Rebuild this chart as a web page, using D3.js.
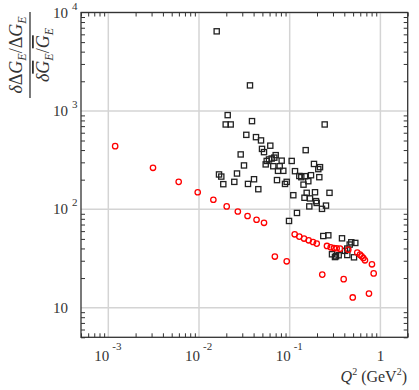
<!DOCTYPE html>
<html>
<head>
<meta charset="utf-8">
<script src="https://cdn.jsdelivr.net/npm/d3@7"></script>
<style>
body { margin: 0; background: #fff; }
text { font-family: "Liberation Serif", "DejaVu Serif", serif; fill: #333; }
</style>
</head>
<body>
<script>
// canvas and plot frame
var width = 419, height = 390;
var plot_left = 81, plot_right = 407.7, plot_top = 12.5, plot_bottom = 337.3;

// x axis decades and their labels (10^exp, '' exponent means plain base)
var xMajor = [1e-3, 1e-2, 1e-1, 1];
var xBase = ['10', '10', '10', '1'];
var xExp = ['-3', '-2', '-1', ''];

// y axis decades and labels
var yMajor = [10, 100, 1000, 10000];
var yBase = ['10', '10', '10', '10'];
var yExp = ['', '2', '3', '4'];

// red circles: Q^2 (GeV^2) and ratio
var redQ2 = [0.00119, 0.00311, 0.00597, 0.00968, 0.0144, 0.0202, 0.0268, 0.0343, 0.0431, 0.0521,
	0.0686, 0.0927, 0.1135, 0.1276, 0.1439, 0.1618, 0.1807, 0.1986, 0.2576, 0.283,
	0.3076, 0.3296, 0.359, 0.4426, 0.556, 0.596, 0.622, 0.649, 0.676, 0.807,
	0.843, 0.2286, 0.3936, 0.4955, 0.748];
var redRatio = [438, 264, 190, 149, 125, 107, 95, 85.5, 78.3, 72.9,
	33.1, 29.6, 55.7, 52.8, 50.4, 48.4, 46.5, 44.8, 42.4, 41.1,
	40.4, 40.2, 39.8, 38.9, 36.3, 34.6, 33.3, 32.0, 30.3, 27.6,
	22.3, 21.7, 19.5, 12.7, 13.9];

// black squares
var blackQ2 = [0.01567, 0.03648, 0.02072, 0.0197, 0.02236, 0.0384, 0.2431, 0.03323, 0.0425, 0.04827,
	0.0611, 0.04951, 0.05208, 0.1501, 0.02882, 0.07009, 0.06766, 0.05911, 0.0633, 0.05578,
	0.0816, 0.1052, 0.03133, 0.05438, 0.06593, 0.07757, 0.0743, 0.085, 0.1144, 0.1853,
	0.2158, 0.2067, 0.01662, 0.01761, 0.02624, 0.01853, 0.0245, 0.04042, 0.03468, 0.04507,
	0.07244, 0.09266, 0.08875, 0.1276, 0.1342, 0.1475, 0.1717, 0.212, 0.142, 0.1604,
	0.1096, 0.154, 0.1901, 0.2747, 0.1456, 0.1674, 0.195, 0.1985, 0.1645, 0.227,
	0.2513, 0.1203, 0.0983, 0.2346, 0.2665, 0.3773, 0.4776, 0.5287, 0.4586, 0.4315,
	0.4072, 0.2927, 0.3239, 0.3468, 0.4315, 0.5116, 0.3158];
var blackRatio = [6437, 1816, 906, 728, 728, 787, 728, 571, 541, 501,
	443, 411, 381, 399, 361, 355, 335, 321, 328, 310,
	312, 310, 279, 286, 274, 274, 246, 246, 244, 289,
	268, 256, 226, 215, 231, 180, 190, 202, 181, 160,
	198, 190, 181, 218, 212, 217, 222, 212, 178, 193,
	139, 147, 149, 147, 131, 129, 121, 116, 107, 101,
	109, 91.8, 76.1, 53.5, 54.4, 50.7, 46.2, 45.5, 43.8, 39.9,
	37.8, 34.9, 33.3, 34.1, 34.3, 32.5, 32.7];

var svg = d3.select('body').append('svg')
	.attr('width', width)
	.attr('height', height);

var x = d3.scaleLog().domain([5e-4, 2]).range([plot_left, plot_right]);
var y = d3.scaleLog().domain([5, 1e4]).range([plot_bottom, plot_top]);

function isDecade(v) {
	var l = Math.log10(v);
	return Math.abs(l - Math.round(l)) < 1e-6;
}
var xMinor = x.ticks().filter(function(d){ return !isDecade(d); });
var yMinor = y.ticks().filter(function(d){ return !isDecade(d); });

// grid lines
svg.append('g').selectAll('line.gx')
	.data(xMajor).enter().append('line')
	.attr('x1', d => x(d)).attr('x2', d => x(d))
	.attr('y1', plot_top).attr('y2', plot_bottom)
	.attr('stroke', '#d4d4d4').attr('stroke-width', 1.5);
svg.append('g').selectAll('line.gy')
	.data(yMajor).enter().append('line')
	.attr('y1', d => y(d)).attr('y2', d => y(d))
	.attr('x1', plot_left).attr('x2', plot_right)
	.attr('stroke', '#d4d4d4').attr('stroke-width', 1.5);

// minor ticks on all four sides, pointing inward
function styleAxis(g) {
	g.select('.domain').remove();
	g.selectAll('.tick line').attr('stroke', '#333').attr('stroke-width', 1);
}
svg.append('g').attr('transform', 'translate(0,' + plot_bottom + ')')
	.call(d3.axisBottom(x).tickValues(xMinor).tickSize(-4).tickFormat('')).call(styleAxis);
svg.append('g').attr('transform', 'translate(0,' + plot_top + ')')
	.call(d3.axisTop(x).tickValues(xMinor).tickSize(-4).tickFormat('')).call(styleAxis);
svg.append('g').attr('transform', 'translate(' + plot_left + ',0)')
	.call(d3.axisLeft(y).tickValues(yMinor).tickSize(-4).tickFormat('')).call(styleAxis);
svg.append('g').attr('transform', 'translate(' + plot_right + ',0)')
	.call(d3.axisRight(y).tickValues(yMinor).tickSize(-4).tickFormat('')).call(styleAxis);

// frame
svg.append('rect')
	.attr('x', plot_left).attr('y', plot_top)
	.attr('width', plot_right - plot_left).attr('height', plot_bottom - plot_top)
	.attr('fill', 'none').attr('stroke', '#333').attr('stroke-width', 1.3);

// x tick labels
xMajor.forEach(function(v, i) {
	if (xExp[i] == '') {
		svg.append('text').attr('x', x(v)).attr('y', 361).attr('text-anchor', 'middle')
			.attr('font-size', '15px').text(xBase[i]);
	} else {
		svg.append('text').attr('x', x(v) + 1).attr('y', 361).attr('text-anchor', 'end')
			.attr('font-size', '15px').text(xBase[i]);
		svg.append('text').attr('x', x(v) + 4).attr('y', 350)
			.attr('font-size', '11px').text(xExp[i]);
	}
});

// y tick labels
yMajor.forEach(function(v, i) {
	svg.append('text').attr('x', 68).attr('y', y(v) + 5).attr('text-anchor', 'end')
		.attr('font-size', '15px').text(yBase[i]);
	if (yExp[i] != '') {
		svg.append('text').attr('x', 72).attr('y', y(v) - 3)
			.attr('font-size', '11px').text(yExp[i]);
	}
});

// x axis title
var xt = svg.append('text').attr('x', 407).attr('y', 382).attr('text-anchor', 'end')
	.attr('font-size', '16px');
xt.append('tspan').attr('font-style', 'italic').text('Q');
xt.append('tspan').attr('font-size', '10px').attr('dy', -7).text('2');
xt.append('tspan').attr('dy', 7).text(' (GeV');
xt.append('tspan').attr('font-size', '10px').attr('dy', -7).text('2');
xt.append('tspan').attr('dy', 7).text(')');

// y axis title as a fraction
var yt = svg.append('g').attr('transform', 'translate(0,55) rotate(-90)');
var num = yt.append('text').attr('x', 0).attr('y', 22).attr('text-anchor', 'middle')
	.attr('font-size', '18px');
num.append('tspan').attr('font-style', 'italic').text('δ');
num.append('tspan').text('Δ');
num.append('tspan').attr('font-style', 'italic').text('G');
num.append('tspan').attr('font-style', 'italic').attr('font-size', '12px').attr('dy', 4).text('E');
num.append('tspan').attr('dy', -4).text('/');
num.append('tspan').text('Δ');
num.append('tspan').attr('font-style', 'italic').text('G');
num.append('tspan').attr('font-style', 'italic').attr('font-size', '12px').attr('dy', 4).text('E');

yt.append('line').attr('x1', -43).attr('x2', 43).attr('y1', 30).attr('y2', 30)
	.attr('stroke', '#333').attr('stroke-width', 1.3);

var den = yt.append('text').attr('x', 0).attr('y', 49).attr('text-anchor', 'middle')
	.attr('font-size', '18px');
den.append('tspan').attr('font-style', 'italic').text('δ');
den.append('tspan').attr('font-style', 'italic').style('text-decoration', 'overline').text('G');
den.append('tspan').attr('font-style', 'italic').attr('font-size', '12px').attr('dy', 4).text('E');
den.append('tspan').attr('dy', -4).text('/');
den.append('tspan').attr('font-style', 'italic').style('text-decoration', 'overline').text('G');
den.append('tspan').attr('font-style', 'italic').attr('font-size', '12px').attr('dy', 4).text('E');

// markers
var blackData = blackQ2.map(function(q, i){ return [q, blackRatio[i]]; });
var redData = redQ2.map(function(q, i){ return [q, redRatio[i]]; });

svg.append('g').selectAll('rect')
	.data(blackData).enter().append('rect')
	.attr('x', d => x(d[0]) - 2.6).attr('y', d => y(d[1]) - 2.6)
	.attr('width', 5.2).attr('height', 5.2)
	.attr('fill', 'none').attr('stroke', '#222').attr('stroke-width', 1.3);

svg.append('g').selectAll('circle')
	.data(redData).enter().append('circle')
	.attr('cx', d => x(d[0])).attr('cy', d => y(d[1]))
	.attr('r', 2.7)
	.attr('fill', 'none').attr('stroke', '#ff0000').attr('stroke-width', 1.3);
</script>
</body>
</html>
